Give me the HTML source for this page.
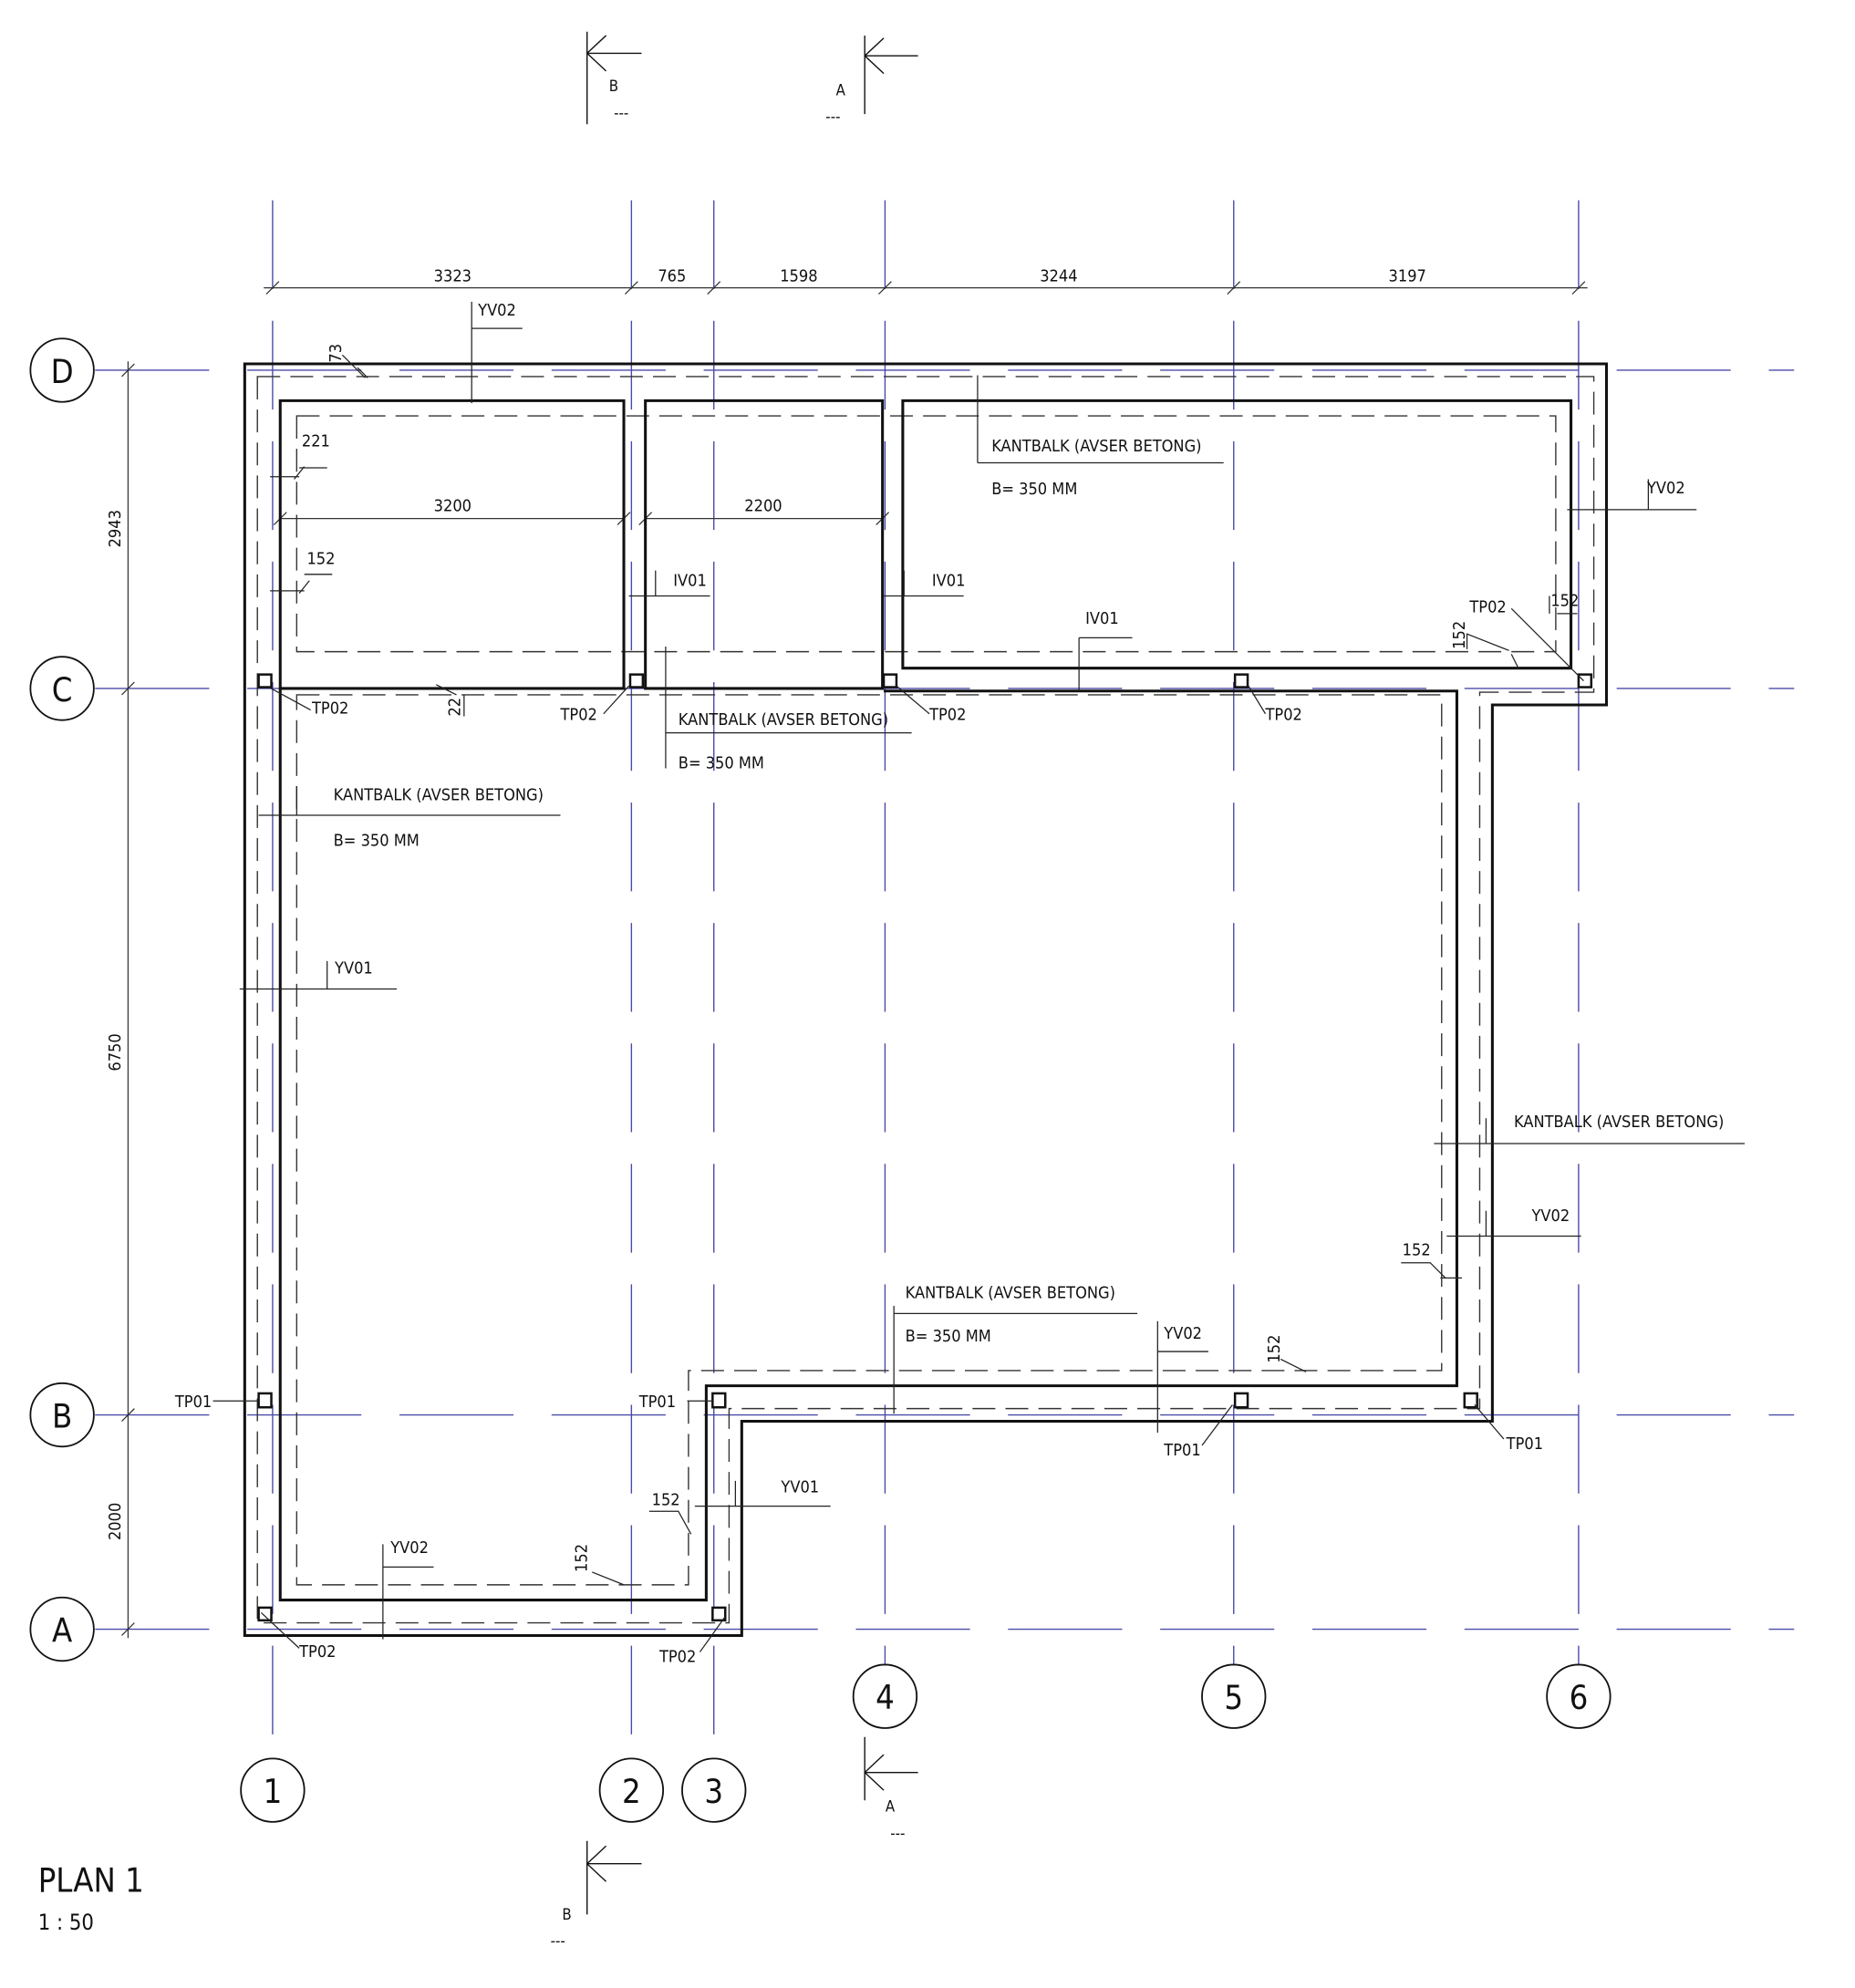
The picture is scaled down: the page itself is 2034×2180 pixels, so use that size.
<!DOCTYPE html>
<html><head><meta charset="utf-8"><style>
html,body{margin:0;padding:0;background:#fff}
svg{display:block}
text{font-family:"DejaVu Sans Condensed","Liberation Sans Narrow","Liberation Sans",sans-serif;fill:#111}
</style></head><body>
<svg width="2034" height="2180" viewBox="0 0 1463 1568" xmlns="http://www.w3.org/2000/svg">
<rect width="1463" height="1568" fill="#fff"/>
<g stroke="#4a4aa8" stroke-width="1" fill="none" stroke-dasharray="70,25">
<line x1="215" y1="158" x2="215" y2="1387"/>
<line x1="498" y1="158" x2="498" y2="1387"/>
<line x1="563" y1="158" x2="563" y2="1387"/>
<line x1="698" y1="158" x2="698" y2="1313"/>
<line x1="973" y1="158" x2="973" y2="1313"/>
<line x1="1245" y1="158" x2="1245" y2="1313"/>
</g>
<g stroke="#4a4aa8" stroke-width="1" fill="none" stroke-dasharray="90,30">
<line x1="75" y1="292" x2="1415" y2="292"/>
<line x1="75" y1="543" x2="1415" y2="543"/>
<line x1="75" y1="1116" x2="1415" y2="1116"/>
<line x1="75" y1="1285" x2="1415" y2="1285"/>
</g>
<g stroke="#111" stroke-width="1.3" fill="#fff">
<circle cx="49" cy="292" r="25"/><circle cx="49" cy="543" r="25"/><circle cx="49" cy="1116" r="25"/><circle cx="49" cy="1285" r="25"/>
<circle cx="215" cy="1412" r="25"/><circle cx="498" cy="1412" r="25"/><circle cx="563" cy="1412" r="25"/>
<circle cx="698" cy="1338" r="25"/><circle cx="973" cy="1338" r="25"/><circle cx="1245" cy="1338" r="25"/>
</g>
<g font-size="26" text-anchor="middle">
<text x="49" y="302">D</text><text x="49" y="553">C</text><text x="49" y="1126">B</text><text x="49" y="1295">A</text>
<text x="215" y="1422">1</text><text x="498" y="1422">2</text><text x="563" y="1422">3</text>
<text x="698" y="1348">4</text><text x="973" y="1348">5</text><text x="1245" y="1348">6</text>
</g>
<g stroke="#333" stroke-width="0.9" fill="none">
<line x1="208" y1="227" x2="1252" y2="227"/>
<line x1="101" y1="285" x2="101" y2="1292"/>
<path d="M210 232l10-10M493 232l10-10M558 232l10-10M693 232l10-10M968 232l10-10M1240 232l10-10"/>
<path d="M96 297l10-10M96 548l10-10M96 1121l10-10M96 1290l10-10"/>
<line x1="221" y1="409" x2="492" y2="409"/><line x1="509" y1="409" x2="696" y2="409"/>
<path d="M216 414l10-10M487 414l10-10M504 414l10-10M691 414l10-10"/>
</g>
<g font-size="13" text-anchor="middle">
<text x="357" y="222">3323</text><text x="530" y="222">765</text><text x="630" y="222">1598</text><text x="835" y="222">3244</text><text x="1110" y="222">3197</text>
<text x="357" y="403">3200</text><text x="602" y="403">2200</text>
<text transform="translate(95,417) rotate(-90)">2943</text>
<text transform="translate(95,830) rotate(-90)">6750</text>
<text transform="translate(95,1200) rotate(-90)">2000</text>
</g>
<g stroke="#333" stroke-width="1" fill="none" stroke-dasharray="18,8">
<path d="M203 297H1257V546H1167V1111H575V1280H203Z"/>
<path d="M234 328H1227V514H234Z"/>
<path d="M234 548H1137V1081H543V1250H234Z"/>
</g>
<g stroke="#111" stroke-width="2.2" fill="none">
<path d="M193 287H1267V556H1177V1121H585V1290H193Z"/>
<path d="M221 316H492V543H221Z"/>
<path d="M221 543V1262H557V1093H1149V545H697"/>
<path d="M509 316H696V543H509Z"/>
<path d="M712 316H1239V527H712Z"/>
</g>
<g stroke="#111" stroke-width="1.8" fill="#fff">
<rect x="204" y="532" width="10" height="10"/><rect x="497" y="532" width="10" height="10"/><rect x="697" y="532" width="10" height="10"/>
<rect x="974" y="532" width="10" height="10"/><rect x="1245" y="532" width="10" height="10"/>
<rect x="204" y="1099" width="10" height="11"/><rect x="562" y="1099" width="10" height="11"/><rect x="974" y="1099" width="10" height="11"/><rect x="1155" y="1099" width="10" height="11"/>
<rect x="204" y="1268" width="10" height="10"/><rect x="562" y="1268" width="10" height="10"/>
</g>
<g stroke="#222" stroke-width="0.9" fill="none">
<path d="M372 238V318M372 259H412"/>
<path d="M270 280L288 298M282 290L290 298"/>
<path d="M213 376H236M236 369H258M232 378L240 368"/>
<path d="M213 466H240M240 453H262M236 468L244 458"/>
<path d="M212 542L245 560M496 541L476 563M707 541L733 563M984 540L998 563"/>
<path d="M1249 537L1192 480M1192 516L1198 528"/>
<path d="M1236 402H1338M1300 378V402"/>
<path d="M1228 484H1244M1222 484V470"/>
<path d="M1157 512V500L1190 513"/>
<path d="M344 540L360 548M366 548V565"/>
<path d="M204 643H442M234 643V620"/>
<path d="M189 780H313M258 758V780"/>
<path d="M496 470H560M517 470V450M697 470H760M713 470V450"/>
<path d="M851 503V545M851 503H893"/>
<path d="M771 296V365M771 365H965"/>
<path d="M525 510V606M525 578H719"/>
<path d="M168 1105H204M206 1272L236 1300M572 1275L552 1303M542 1105H562M972 1108L948 1140M1163 1108L1186 1135"/>
<path d="M705 1030V1115M705 1036H897"/>
<path d="M913 1042V1130M913 1066H953"/>
<path d="M1010 1072L1030 1082"/>
<path d="M1131 902H1376M1172 902V882"/>
<path d="M1141 975H1247M1172 975V955"/>
<path d="M1105 996H1128L1140 1008"/>
<path d="M548 1188H655M580 1188V1168"/>
<path d="M512 1192H535L545 1210"/>
<path d="M302 1218V1293M302 1236H342"/>
<path d="M467 1240L492 1250"/>
<path d="M1136 1008L1153 1008"/>
</g>
<g font-size="13">
<text x="377" y="249">YV02</text><text x="252" y="283" transform="rotate(-90 262 276)">73</text>
<text x="238" y="352">221</text><text x="242" y="445">152</text>
<text x="246" y="563">TP02</text><text x="442" y="568">TP02</text><text x="733" y="568">TP02</text><text x="998" y="568">TP02</text>
<text x="1159" y="483">TP02</text><text x="1223" y="478">152</text>
<text transform="translate(1155,512) rotate(-90)">152</text>
<text transform="translate(363,565) rotate(-90)">22</text>
<text x="1299" y="389">YV02</text>
<text x="782" y="356">KANTBALK (AVSER BETONG)</text><text x="782" y="390">B= 350 MM</text>
<text x="531" y="462">IV01</text><text x="735" y="462">IV01</text><text x="856" y="492">IV01</text>
<text x="535" y="572">KANTBALK (AVSER BETONG)</text><text x="535" y="606">B= 350 MM</text>
<text x="263" y="631">KANTBALK (AVSER BETONG)</text><text x="263" y="667">B= 350 MM</text>
<text x="264" y="768">YV01</text>
<text x="1194" y="889">KANTBALK (AVSER BETONG)</text>
<text x="1208" y="963">YV02</text><text x="1106" y="990">152</text>
<text x="714" y="1024">KANTBALK (AVSER BETONG)</text><text x="714" y="1058">B= 350 MM</text>
<text x="918" y="1056">YV02</text>
<text transform="translate(1009,1075) rotate(-90)">152</text>
<text x="138" y="1110">TP01</text><text x="504" y="1110">TP01</text><text x="918" y="1148">TP01</text><text x="1188" y="1143">TP01</text>
<text x="514" y="1187">152</text><text x="616" y="1177">YV01</text>
<text x="308" y="1225">YV02</text>
<text transform="translate(463,1240) rotate(-90)">152</text>
<text x="236" y="1307">TP02</text><text x="520" y="1311">TP02</text>
</g>
<g stroke="#111" stroke-width="1" fill="none">
<path d="M463 25V98M463 42H506M463 42L478 28M463 42L478 56"/>
<path d="M682 28V90M682 44H724M682 44L697 30M682 44L697 58"/>
<path d="M682 1370V1420M682 1398H724M682 1398L697 1384M682 1398L697 1412"/>
<path d="M463 1452V1510M463 1470H506M463 1470L478 1456M463 1470L478 1484"/>
</g>
<g font-size="12" text-anchor="middle">
<text x="484" y="72">B</text><text x="490" y="93">---</text>
<text x="663" y="75">A</text><text x="657" y="96">---</text>
<text x="702" y="1429">A</text><text x="708" y="1450">---</text>
<text x="447" y="1514">B</text><text x="440" y="1535">---</text>
</g>
<text x="30" y="1492" font-size="26">PLAN 1</text>
<text x="30" y="1522" font-size="17">1 : 50</text>
</svg>
</body></html>
